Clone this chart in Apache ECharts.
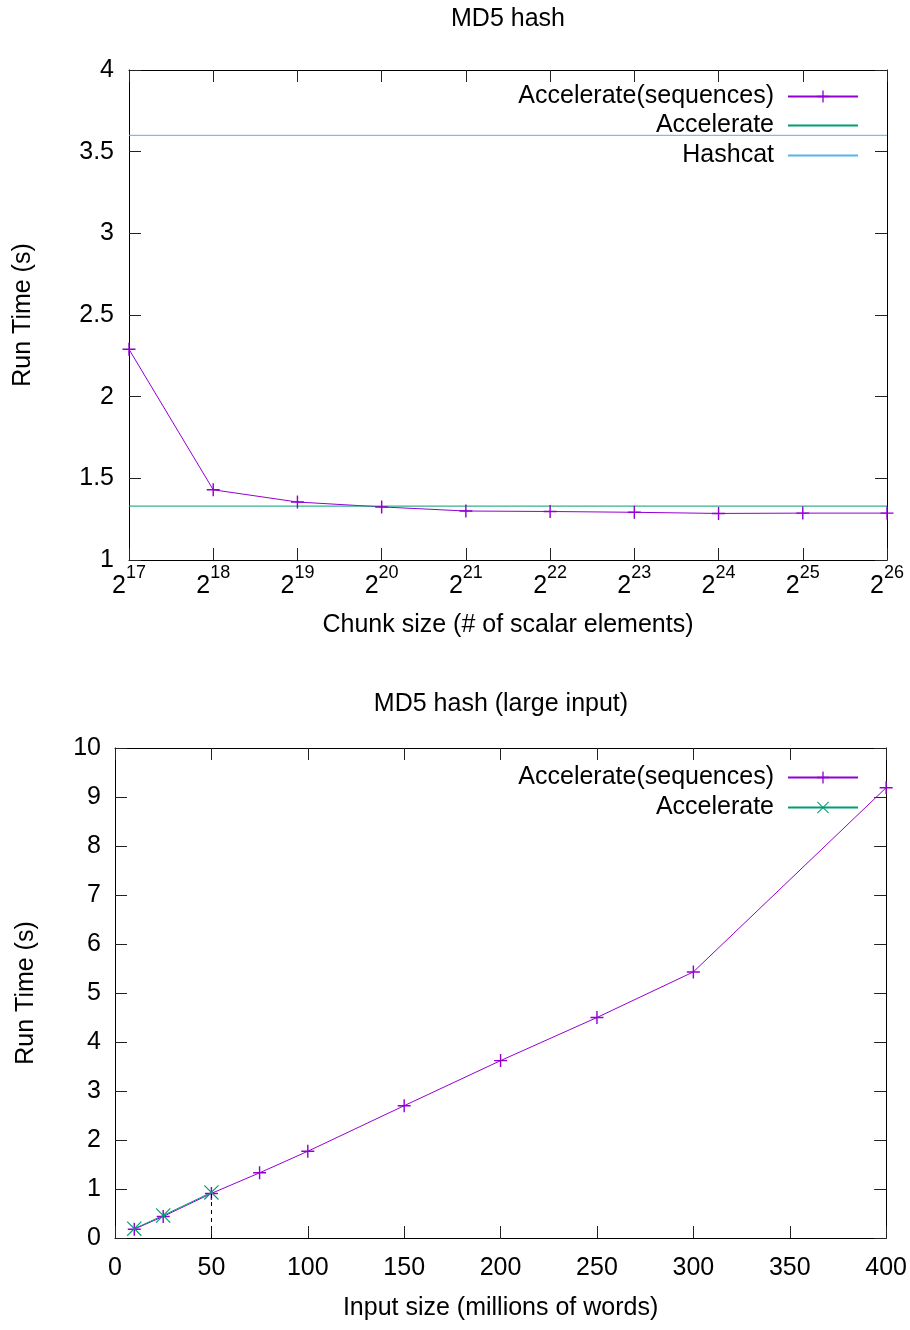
<!DOCTYPE html>
<html>
<head>
<meta charset="utf-8">
<script src="https://cdn.jsdelivr.net/npm/echarts@6/dist/echarts.min.js"></script>
<style>
  html, body { margin: 0; padding: 0; background: #fff; }
  #chart { width: 910px; height: 1330px; }
</style>
</head>
<body>
<div id="chart"></div>
<script>
// Upper panel: run time against chunk size (chunk = 2^exponent)
const chunkExponents = [17, 18, 19, 20, 21, 22, 23, 24, 25, 26];
const seqChunkTimes  = [2.29, 1.43, 1.355, 1.325, 1.30, 1.297, 1.292, 1.285, 1.287, 1.287];
const accelerateTime = 1.33;
const hashcatTime    = 3.60;

// Lower panel: run time against input size (millions of words)
const inputSizes      = [10, 25, 50, 75, 100, 150, 200, 250, 300, 400];
const seqInputTimes   = [0.18, 0.44, 0.91, 1.33, 1.77, 2.70, 3.62, 4.50, 5.43, 9.19];
const accelInputSizes = [10, 25, 50];
const accelInputTimes = [0.19, 0.46, 0.93];

const FONT = 'Liberation Sans, Arial, Helvetica, sans-serif';
const FS = 25;
const PURPLE = '#9400d3', GREEN = '#009e73', BLUE = '#56b4e9';
const ZW = '\u200b'; // keeps lower-panel series names distinct from the upper ones

const plusSymbol  = 'path://M0,4.45H10V5.55H0Z M4.45,0H5.55V10H4.45Z';
const crossSymbol = 'path://M0,0.55L0.55,0L10,9.45L9.45,10Z M9.45,0L10,0.55L0.55,10L0,9.45Z';

const pairs = (xs, ys) => xs.map((x, i) => [x, ys[i]]);

const lineCol = '#000';
function frameAxis(extra) {
  return Object.assign({
    type: 'value',
    axisLine: { show: true, onZero: false, lineStyle: { color: lineCol, width: 1 } },
    axisTick: { show: true, inside: true, length: 12, lineStyle: { color: '#222', width: 1 } },
    splitLine: { show: false },
    axisLabel: { show: false },
    nameTextStyle: { fontFamily: FONT, fontSize: FS, color: '#000' }
  }, extra);
}
const tickLabel = (margin) => ({ show: true, margin, fontFamily: FONT, fontSize: FS, color: '#000' });

function legendEntry(name, top, hideSymbol) {
  const l = {
    data: [name], right: 51, top, orient: 'vertical', align: 'right',
    itemWidth: 70, itemHeight: 15, padding: 0, selectedMode: false,
    formatter: n => n.replace(ZW, ''),
    textStyle: { fontFamily: FONT, fontSize: FS, color: '#000', padding: [0, 9, 0, 0] }
  };
  if (hideSymbol) l.itemStyle = { opacity: 0 };
  return l;
}

const chart = echarts.init(document.getElementById('chart'), null, { renderer: 'canvas' });
chart.setOption({
  animation: false,
  backgroundColor: '#fff',
  title: [
    { text: 'MD5 hash', left: 508, top: 7, textAlign: 'center', padding: 0,
      textStyle: { fontFamily: FONT, fontSize: FS, fontWeight: 'normal', color: '#000' } },
    { text: 'MD5 hash (large input)', left: 501, top: 692, textAlign: 'center', padding: 0,
      textStyle: { fontFamily: FONT, fontSize: FS, fontWeight: 'normal', color: '#000' } }
  ],
  legend: [
    legendEntry('Accelerate(sequences)', 84, false),
    legendEntry('Accelerate', 113, true),
    legendEntry('Hashcat', 143, true),
    legendEntry('Accelerate(sequences)' + ZW, 765, false),
    legendEntry('Accelerate' + ZW, 795, false)
  ],
  grid: [
    { left: 129, top: 70, width: 758, height: 490 },
    { left: 115, top: 748, width: 773, height: 490 }
  ],
  xAxis: [
    frameAxis({
      gridIndex: 0, position: 'bottom', min: 17, max: 26, interval: 1,
      name: 'Chunk size (# of scalar elements)', nameLocation: 'middle', nameGap: 53,
      axisLabel: {
        show: true, margin: 4,
        formatter: v => '{b|2}{s|' + v + '}',
        rich: {
          b: { fontFamily: FONT, fontSize: FS, color: '#000' },
          s: { fontFamily: FONT, fontSize: 18, color: '#000', padding: [0, 0, 26, 0] }
        }
      }
    }),
    frameAxis({ gridIndex: 0, position: 'top', min: 17, max: 26, interval: 1 }),
    frameAxis({
      gridIndex: 1, position: 'bottom', min: 0, max: 400, interval: 50,
      name: 'Input size (millions of words)', nameLocation: 'middle', nameGap: 58,
      axisLabel: tickLabel(18)
    }),
    frameAxis({ gridIndex: 1, position: 'top', min: 0, max: 400, interval: 50 })
  ],
  yAxis: [
    frameAxis({
      gridIndex: 0, position: 'left', min: 1, max: 4, interval: 0.5,
      name: 'Run Time (s)', nameLocation: 'middle', nameGap: 93,
      axisLabel: tickLabel(15)
    }),
    frameAxis({ gridIndex: 0, position: 'right', min: 1, max: 4, interval: 0.5 }),
    frameAxis({
      gridIndex: 1, position: 'left', min: 0, max: 10, interval: 1,
      name: 'Run Time (s)', nameLocation: 'middle', nameGap: 76,
      axisLabel: tickLabel(14)
    }),
    frameAxis({ gridIndex: 1, position: 'right', min: 0, max: 10, interval: 1 })
  ],
  series: [
    {
      name: 'Accelerate(sequences)', type: 'line', xAxisIndex: 0, yAxisIndex: 0,
      data: pairs(chunkExponents, seqChunkTimes),
      symbol: plusSymbol, symbolSize: 13, clip: false,
      lineStyle: { color: PURPLE, width: 1 }, itemStyle: { color: PURPLE }
    },
    {
      name: 'Accelerate', type: 'line', xAxisIndex: 0, yAxisIndex: 0,
      data: [[chunkExponents[0], accelerateTime], [chunkExponents[chunkExponents.length - 1], accelerateTime]],
      symbol: 'none', lineStyle: { color: GREEN, width: 1 }, itemStyle: { color: GREEN }
    },
    {
      name: 'Hashcat', type: 'line', xAxisIndex: 0, yAxisIndex: 0,
      data: [[chunkExponents[0], hashcatTime], [chunkExponents[chunkExponents.length - 1], hashcatTime]],
      symbol: 'none', lineStyle: { color: BLUE, width: 1 }, itemStyle: { color: BLUE }
    },
    {
      name: 'Accelerate(sequences)' + ZW, type: 'line', xAxisIndex: 2, yAxisIndex: 2,
      data: pairs(inputSizes, seqInputTimes),
      symbol: plusSymbol, symbolSize: 13, clip: false,
      lineStyle: { color: PURPLE, width: 1 }, itemStyle: { color: PURPLE }
    },
    {
      name: 'Accelerate' + ZW, type: 'line', xAxisIndex: 2, yAxisIndex: 2,
      data: pairs(accelInputSizes, accelInputTimes),
      symbol: crossSymbol, symbolSize: 15, clip: false,
      lineStyle: { color: GREEN, width: 1 }, itemStyle: { color: GREEN },
      markLine: {
        silent: true, symbol: 'none', label: { show: false },
        lineStyle: { color: '#000', type: [4, 4], width: 1 },
        data: [[
          { coord: [accelInputSizes[2], 0] },
          { coord: [accelInputSizes[2], accelInputTimes[2]] }
        ]]
      }
    }
  ]
});
</script>
</body>
</html>
